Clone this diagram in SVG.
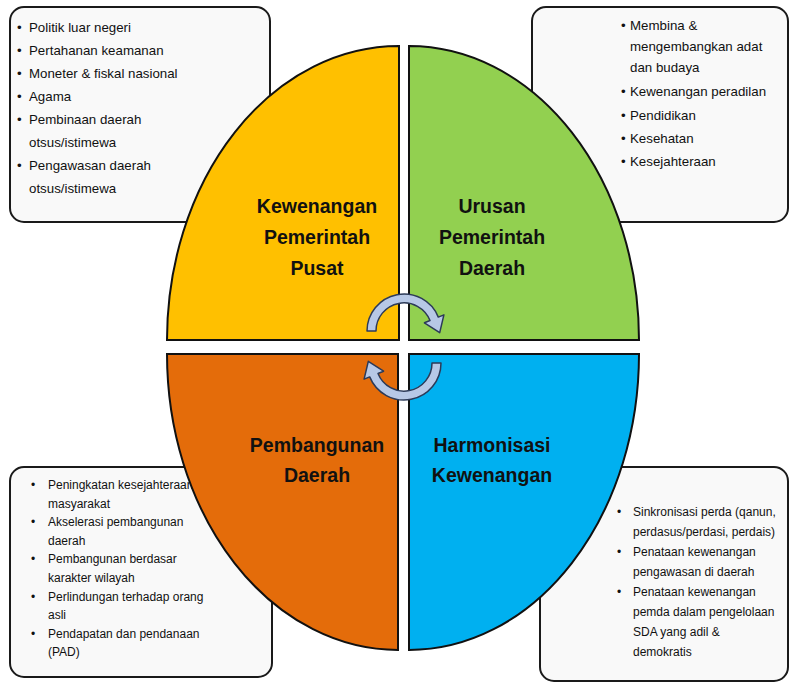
<svg xmlns="http://www.w3.org/2000/svg" width="791" height="684" viewBox="0 0 791 684">
<style>
.box{fill:#f9f9f9;stroke:#1a1a1a;stroke-width:2}
.q{stroke:#111;stroke-width:2}
.t{font-family:"Liberation Sans",Arial,sans-serif;fill:#111}
.tl{font-size:13.3px}
.bl{font-size:12px}
.h{font-family:"Liberation Sans",Arial,sans-serif;font-weight:bold;font-size:19.5px;fill:#111;text-anchor:middle}
.arr{fill:#b7c8e6;stroke:#2c3a58;stroke-width:1.5;stroke-linejoin:round}
</style>
<defs>
<path id="arrowShape" d="M367,331 A37,37 0 0 1 438.3,317.1 L443.9,314.9 L439.7,332.7 L424.4,322.8 L430,320.5 A28,28 0 0 0 376,331 Z"/>
</defs>
<rect width="791" height="684" fill="#ffffff"/>

<g id="box-pusat">
<rect class="box" x="10" y="7" width="260" height="215" rx="14"/>
<g class="t tl">
<text x="17" y="32">•</text><text x="29" y="32">Politik luar negeri</text>
<text x="17" y="55">•</text><text x="29" y="55">Pertahanan keamanan</text>
<text x="17" y="78">•</text><text x="29" y="78">Moneter &amp; fiskal nasional</text>
<text x="17" y="101">•</text><text x="29" y="101">Agama</text>
<text x="17" y="124">•</text><text x="29" y="124">Pembinaan daerah</text>
<text x="29" y="147">otsus/istimewa</text>
<text x="17" y="170">•</text><text x="29" y="170">Pengawasan daerah</text>
<text x="29" y="193">otsus/istimewa</text>
</g>
</g>

<g id="box-daerah">
<rect class="box" x="532" y="7" width="256" height="215" rx="14"/>
<g class="t tl">
<text x="621" y="30">•</text><text x="630" y="30">Membina &amp;</text>
<text x="630" y="51">mengembangkan adat</text>
<text x="630" y="72">dan budaya</text>
<text x="621" y="96">•</text><text x="630" y="96">Kewenangan peradilan</text>
<text x="621" y="120">•</text><text x="630" y="120">Pendidikan</text>
<text x="621" y="143">•</text><text x="630" y="143">Kesehatan</text>
<text x="621" y="166">•</text><text x="630" y="166">Kesejahteraan</text>
</g>
</g>

<g id="box-pembangunan">
<rect class="box" x="10" y="467" width="262" height="210" rx="14"/>
<g class="t bl">
<text x="31" y="489">•</text><text x="48" y="489">Peningkatan kesejahteraan</text>
<text x="48" y="507.6">masyarakat</text>
<text x="31" y="526.2">•</text><text x="48" y="526.2">Akselerasi pembangunan</text>
<text x="48" y="544.8">daerah</text>
<text x="31" y="563.4">•</text><text x="48" y="563.4">Pembangunan berdasar</text>
<text x="48" y="582">karakter wilayah</text>
<text x="31" y="600.6">•</text><text x="48" y="600.6">Perlindungan terhadap orang</text>
<text x="48" y="619.2">asli</text>
<text x="31" y="637.8">•</text><text x="48" y="637.8">Pendapatan dan pendanaan</text>
<text x="48" y="656.4">(PAD)</text>
</g>
</g>

<g id="box-harmonisasi">
<rect class="box" x="540" y="467" width="248" height="214" rx="14"/>
<g class="t bl">
<text x="617" y="516">•</text><text x="633" y="516">Sinkronisasi perda (qanun,</text>
<text x="633" y="536">perdasus/perdasi, perdais)</text>
<text x="617" y="556">•</text><text x="633" y="556">Penataan kewenangan</text>
<text x="633" y="576">pengawasan di daerah</text>
<text x="617" y="596">•</text><text x="633" y="596">Penataan kewenangan</text>
<text x="633" y="616">pemda dalam pengelolaan</text>
<text x="633" y="636">SDA yang adil &amp;</text>
<text x="633" y="656">demokratis</text>
</g>
</g>

<g id="node-pusat">
<path class="q" fill="#ffc000" d="M399,340 V46 A232,294 0 0 0 167,340 Z"/>
<text class="h" x="317" y="213">Kewenangan</text>
<text class="h" x="317" y="244">Pemerintah</text>
<text class="h" x="317" y="275">Pusat</text>
</g>

<g id="node-daerah">
<path class="q" fill="#92d050" d="M409,340 V46 A230,294 0 0 1 639,340 Z"/>
<text class="h" x="492" y="213">Urusan</text>
<text class="h" x="492" y="244">Pemerintah</text>
<text class="h" x="492" y="275">Daerah</text>
</g>

<g id="node-pembangunan">
<path class="q" fill="#e46c0a" d="M398,354 V650 A231,296 0 0 1 167,354 Z"/>
<text class="h" x="317" y="452">Pembangunan</text>
<text class="h" x="317" y="482">Daerah</text>
</g>

<g id="node-harmonisasi">
<path class="q" fill="#00b0f0" d="M409,354 V650 A230,296 0 0 0 639,354 Z"/>
<text class="h" x="492" y="452">Harmonisasi</text>
<text class="h" x="492" y="482">Kewenangan</text>
</g>

<g id="connectors">
<use href="#arrowShape" class="arr"/>
<use href="#arrowShape" class="arr" transform="rotate(180 404 347)"/>
</g>
</svg>
